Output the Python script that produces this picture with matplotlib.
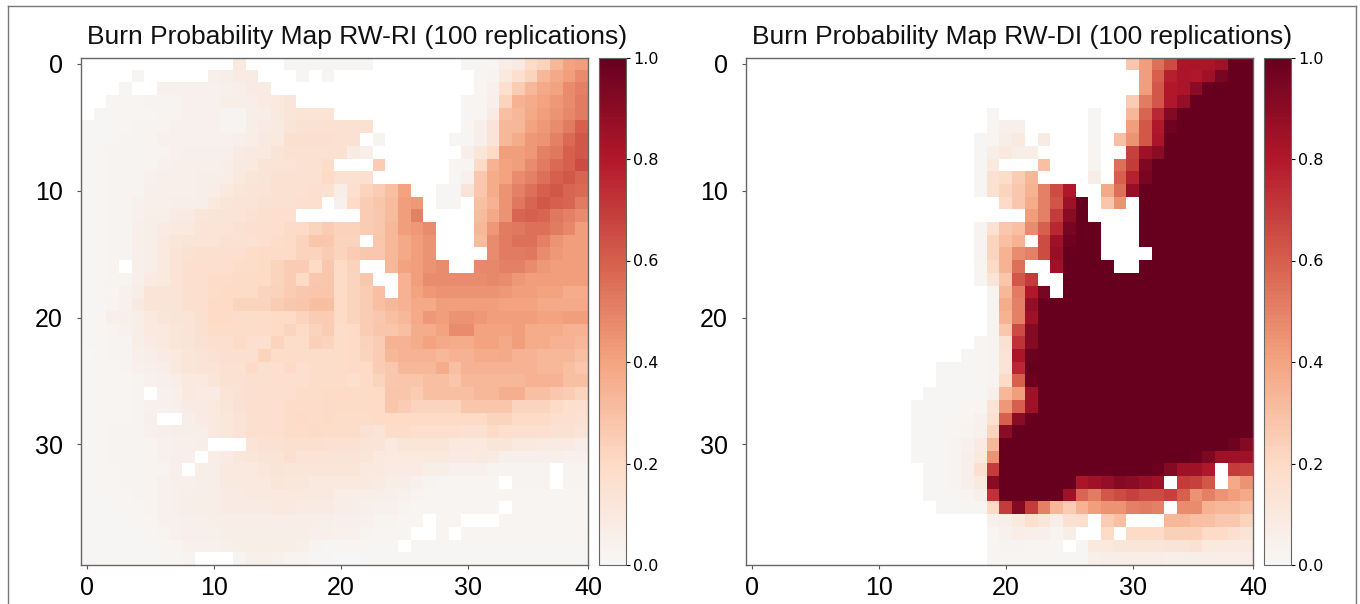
import numpy as np
import matplotlib
matplotlib.use("Agg")
import matplotlib.pyplot as plt
from matplotlib.colors import ListedColormap

n = float("nan")
N = [n]
one = [100]

# burn probability in percent, row by row (blank cells are nan)
rw_ri = [
    N*12 + [10] + N*3 + [1,1,1,1, 1,1,1] + N*7 + [1,1,2,7,8,20,22,33,40,42],
    N*4 + [1] + N*5 + [5,6,8,8] + N*3 + [1] + N + [1] + N*11 + [1,3,10,17,22,33,38,42,47],
    N*3 + [1] + N*2 + [4,4,4,4,4,5,7,8,8] + N*5 + N*11 + [2,4,17,25,33,38,40,47,50],
    N*2 + [1,2,2,3,3,3,4,4,4,6,6,7,8,10,12] + N*3 + N*10 + [1,2,5,22,35,37,40,43,47,52],
    N + [1,2,2,2,2,3,3,4,4,4,3,3,6,7,10,12,14,14,14] + N*10 + [1,2,8,30,33,38,42,45,48,52],
    [1,1,1,2,3,3,3,4,4,4,4,3,3,7,8,9,13,15,15,15, 15,15,15] + N*7 + [2,5,13,33,33,40,43,47,52,60],
    [1,1,2,3,3,3,4,4,4,4,4,4,5,7,9,10,16,16,16,16, 15,15] + N + [3] + N*5 + [1,1,5,13,33,37,43,45,50,57,62],
    [1,2,3,3,3,3,3,4,5,5,5,5,8,9,10,13,15,15,15,15, 15,8,5] + N*7 + [5,12,20,42,42,43,50,53,60,62],
    [1,2,3,3,3,3,4,5,5,5,5,7,9,10,13,14,14,15,15,18] + N*3 + [25] + N*5 + [1,2,20,35,40,42,47,52,57,60,65],
    [1,2,3,3,3,4,5,5,5,6,6,7,10,12,13,15,15,15,15,20, 15,15,17] + N*6 + [1,4,27,37,40,47,50,55,60,62,58],
    [1,2,3,3,3,5,5,5,5,6,7,10,12,13,14,15,15,15,17,15, 7,17,22,25,30,40] + N*2 + [1,1,13,27,37,45,50,55,60,62,58,57],
    [1,1,3,3,4,5,5,6,6,7,10,12,13,14,15,15,15,17,17] + N + [4,20,25,28,32,42,43] + N + [1,1] + N + [30,35,45,53,58,62,60,58,52],
    [1,1,3,3,4,6,7,8,8,12,13,13,14,15,16,17,17] + N*3 + N*2 + [25,27,32,42,50] + N*4 + [32,38,45,58,60,58,53,50,47],
    [1,1,3,3,5,6,8,10,10,13,14,14,15,17,16,17,19,20,22,25, 23,23,25,27,33,42,43,47] + N*3 + [33,43,52,53,55,55,52,48,42],
    [1,1,3,3,5,7,10,12,13,14,14,15,15,15,17,18,20,22,28,27, 22,22] + N + [28,33,38,42,45] + N*3 + [32,47,52,55,55,50,45,42,42],
    [1,2,3,3,5,7,10,14,15,16,16,16,17,18,19,20,20,22,22,25, 22,25,27,27,33,38,42,45] + N*4 + [47,52,52,53,47,43,42,42],
    [1,2,3] + N + [5,7,10,14,16,17,17,17,18,18,20,22,25,25,20,27, 20,23] + N*2 + [33,40,42,45,47] + N*2 + [48,48,50,50,47,43,42,42,42],
    [1,2,3,3,5,8,10,14,17,17,18,18,19,20,20,22,25,20,27,28, 20,22,27] + N*2 + [35,42,47,47,47,47,47,48,47,43,42,42,42,42,42],
    [1,1,2,4,7,13,13,14,16,17,18,20,20,20,22,23,25,27,28,28, 20,22,25,30] + N + [35,40,43,45,45,45,45,45,43,42,42,40,40,37,37],
    [1,1,3,4,9,13,13,14,16,17,20,20,22,22,22,25,27,28,30,30, 20,22,25,30,33,35,38,38,42,42,42,42,42,40,40,40,38,38,38,38],
    [1,2,5,5,7,10,12,13,14,16,20,20,18,18,18,20,20,22,25,25, 20,22,25,27,30,33,38,43,42,45,45,43,42,42,42,42,40,40,42,42],
    [1,2,3,4,7,10,10,12,14,16,18,18,18,18,18,20,22,20,22,25, 18,20,25,28,28,30,37,37,40,47,47,40,40,40,42,37,37,37,35,35],
    [1,2,3,3,6,8,10,12,13,15,17,17,20,17,17,22,18,18,24,22, 18,20,23,25,35,35,37,40,38,37,37,40,40,38,42,37,37,35,35,33],
    [0,2,3,3,5,7,8,10,12,14,15,16,16,16,22,18,18,18,18,18, 18,20,22,25,33,35,35,35,33,35,35,37,37,38,35,35,33,33,33,30],
    [1,2,2,3,4,5,7,10,12,13,14,15,15,20,16,17,20,17,18,18, 18,20,20,25,27,33,33,33,37,30,35,35,35,35,35,35,33,33,30,27],
    [1,2,2,2,3,4,5,6,10,10,12,15,15,16,16,17,17,17,18,18, 18,17,20,22,27,28,28,30,30,28,33,33,33,33,33,35,35,35,30,30],
    [1,1,2,2,3] + N + [4,5,10,8,8,14,15,16,17,17,17,18,18,20, 20,20,20,20,28,28,25,30,30,30,30,33,33,36,36,30,30,27,25,22],
    [1,1,2,2,3,4,4,5,8,8,10,12,15,16,17,17,18,18,18,19, 20,20,20,20,28,25,22,22,22,22,28,28,28,28,22,22,22,20,17,17],
    [1,2,2,2,3,5] + N*2 + [6,8,10,11,14,16,17,17,18,20,18,20, 18,18,18,20,20,20,20,20,20,20,20,20,22,22,20,20,20,17,17,15],
    [1,2,3,3,3,4,5,6,6,7,9,11,14,16,17,17,18,18,19,18, 18,18,15,13,18,18,17,17,17,17,15,15,20,17,17,17,17,15,15,13],
    [1,2,3,3,3,3,4,5,5,6] + N*3 + [14,15,15,16,16,16,15, 15,15,13,13,10,12,12,12,12,10,10,10,12,12,10,10,8,8,8,7],
    [1,2,3,3,3,3,4,5,5] + N + [7,8,11,12,13,14,16,14,14,14, 13,13,12,10,10,10,10,10,10,8,8,10,8,5,5,5,5,5,4,4],
    [1,1,2,3,3,3,3,5] + N + [6,6,9,10,10,11,13,12,12,12,12, 12,12,10,10,8,8,8,6,6,4,4,4,3,3,3,3,3] + N + [3,3],
    [1,1,2,3,3,3,4,5,5,6,7,9,10,10,10,12,11,11,10,10, 10,10,10,8,7,7,4,3,2,2,2,2,2] + N + [3,3,3] + N + [3,3],
    [1,1,2,2,3,3,4,5,6,7,7,8,8,10,9,10,10,10,9,9, 7,7,7,6,5,4,3,2,2,2,2,2,2,2,2,2,2,2,2,2],
    [1,1,1,2,2,3,4,5,6,6,7,8,8,8,8,10,9,8,8,8, 7,7,5,4,4,3,2,2,2,2,2,2,2] + N + [2,2,2,2,2,2],
    [1,1,1,1,2,2,4,4,5,5,6,7,7,7,7,7,7,7,7,6, 5,5,4,3,3,2,2] + N + [2,2] + N*3 + [2,2,2,2,2,2,2],
    [1,1,1,1,1,2,3,4,5,5,5,6,7,6,7,7,6,6,5,5, 4,4,3,2,2,2] + N*2 + [2] + N + [2,2,2,2,2,2,2,2,2,2],
    [1,1,1,1,1,1,2,2,4,4,4,5,6,7,6,6,6,5,3,1, 1,2,2,1,1] + N + [1,1,1,1,1,1,1,1,1,1,1,1,1,1],
    [1,1,1,1,1,1,1,1,3] + N*3 + [3,5,5,4,3,3,1,1, 0,0,1,1,1,1,1,1,1,1,1,1,1,1,1,1,1,1,1,1],
]

rw_di = [
    N*30 + [27,42,55,65,82,82,82,85] + one*2,
    N*31 + [42,60,78,82,80,85,95] + one*2,
    N*31 + [42,62,80,82,90] + one*4,
    N*30 + [25,52,62,80,88] + one*5,
    N*19 + [1] + N*7 + [1] + N*2 + [33,58,75,92] + one*6,
    N*19 + [2,5,5] + N*5 + [1] + N*2 + [42,62,80,97] + one*6,
    N*18 + [1,2,6,10] + N + [8] + N*3 + [1] + N + [30,45,62,82] + one*7,
    N*18 + [1,6,10,6,7] + N*4 + [2] + N*2 + [68,85,90] + one*7,
    N*18 + [1,10] + N*3 + [30] + N*3 + [3] + N + [55,70,93] + one*8,
    N*18 + [1,15,18,25,33] + N*4 + [7] + N + [60,77,95] + one*8,
    N*18 + [1,15,22,27,35,50,65,80] + N*2 + [38,55,87] + one*9,
    N*20 + [20,27,37,50,63,85,100] + N + [28,45] + N + one*9,
    N*22 + [42,50,70,90,100] + N*4 + one*9,
    N*18 + [3,15,27,30,47,60,75,95,100,100] + N*3 + one*9,
    N*18 + [3,22,30,35] + N + [65,85,97,100,100] + N*3 + one*9,
    N*18 + [3,22,35,47,50,65,87,100,100,100] + N*4 + one*8,
    N*18 + [2,20,35,55] + N*2 + [85,100,100,100,100] + N*2 + one*9,
    N*18 + [2,13,28,62,70] + N*2 + one*15,
    N*19 + [3,33,52,80,95] + N + one*15,
    N*19 + [3,37,50,88] + one*17,
    N*19 + [3,35,50,85] + one*17,
    N*19 + [3,27,65,92] + one*17,
    N*18 + [1,3,15,72,92] + one*17,
    N*17 + [1,1,3,13,82,98] + one*17,
    N*15 + [1,1,1,1,3,13,75] + one*18,
    N*15 + [1,1,1,1,3,20,60,98] + one*17,
    N*14 + [1,1,1,1,1,5,33,42,85] + one*17,
    N*13 + [1,1,1,1,2,2,13,43,60,85] + one*17,
    N*13 + [1,1,1,2,2,4,15,60,90] + one*18,
    N*13 + [1,1,1,2,3,4,22,90] + one*19,
    N*13 + [1,1,1,3,4,8,33] + one*18 + [97,92],
    N*13 + [1,1,1,3,5,10,45] + one*15 + [98,93,85,85,85],
    N*14 + [1,1,3,5,17,70] + one*12 + [98,92,85,85,80] + N + [70,68],
    N*14 + [1,1,3,5,10,90] + one*6 + [82,85,88,92,90,87,85] + N + [70,68,62] + N + [38,45],
    N*14 + [1,1,1,3,5,72] + one*5 + [85,58,52,62,65,68,65,65,68,60,45,50,45,42,38],
    N*15 + [1,1,1,2,20,70,92,70,50,33,25,35,42,45,45,50,52,50] + N + [47,47,35,33,33,30],
    N*19 + [4,7,10,17,12,7,15,17] + N + [25,30] + N*3 + [33,33,30,30,27,27,22],
    N*19 + [2,4,7,5,5,3,7] + N*2 + [20] + N + [20,20,20,24,24,24,20,20,17,13],
    N*19 + [2,3,3,2,2,2] + N + [1,10,10,12,12,12,12,13,13,15,10,10,10,10],
    N*19 + [1,1,1,1,1,1,1,1,5,7,7,7,7,7,5,6,6,6,7,7,7],
]

x_ticks = [0, 10, 20, 30, 39.5]
x_labels = ["0", "10", "20", "30", "40"]
y_ticks = [0, 10, 20, 30]
cbar_ticks = [0.0, 0.2, 0.4, 0.6, 0.8, 1.0]
titles = ["Burn Probability Map RW-RI (100 replications)",
          "Burn Probability Map RW-DI (100 replications)"]

W, H = 1360, 604


def px_axes(fig, x0, y0, x1, y1):
    return fig.add_axes([x0 / W, 1 - y1 / H, (x1 - x0) / W, (y1 - y0) / H])


def draw_panel(fig, grid, title, x0, cmap):
    ax = px_axes(fig, x0, 57.5, x0 + 507, 565)
    im = ax.imshow(np.array(grid, dtype=float) / 100, cmap=cmap, vmin=0, vmax=1,
                   aspect="auto", interpolation="nearest")
    ax.set_xticks(x_ticks, x_labels, fontsize=18, family="Liberation Sans")
    ax.set_yticks(y_ticks, [str(v) for v in y_ticks], fontsize=18, family="Liberation Sans")
    ax.tick_params(axis="x", length=3, width=0.8, color="#555555", pad=5)
    ax.tick_params(axis="y", length=3, width=0.8, color="#555555", pad=10)
    for s in ax.spines.values():
        s.set_color("#666666")
        s.set_linewidth(1.0)

    cax = px_axes(fig, x0 + 518, 57.5, x0 + 545, 565)
    cb = fig.colorbar(im, cax=cax)
    cb.set_ticks(cbar_ticks)
    cb.ax.tick_params(labelsize=11.5, length=3, width=0.8, pad=2)
    for lab in cb.ax.get_yticklabels():
        lab.set_family("DejaVu Sans")
    cb.outline.set_edgecolor("#666666")

    fig.text((x0 + 6) / W, 1 - 44 / H, title, fontsize=19,
             family="Liberation Sans", va="baseline", ha="left", color="#111111")


def main():
    fig = plt.figure(figsize=(W / 100, H / 100), dpi=100, facecolor="white")
    cmap = ListedColormap(plt.get_cmap("RdBu_r")(np.linspace(0.5, 1, 256)))
    cmap.set_bad("white")

    draw_panel(fig, rw_ri, titles[0], 81, cmap)
    draw_panel(fig, rw_di, titles[1], 746, cmap)

    # thin frame the source picture has at the top and sides
    top = 1 - 6 / H
    fig.add_artist(plt.Line2D([7.5 / W, 1356 / W], [top, top], color="#777777", lw=1))
    fig.add_artist(plt.Line2D([7.5 / W, 7.5 / W], [0, top], color="#777777", lw=1))
    fig.add_artist(plt.Line2D([1356 / W, 1356 / W], [0, top], color="#777777", lw=1))

    fig.savefig("out.png", dpi=100)


if __name__ == "__main__":
    main()
